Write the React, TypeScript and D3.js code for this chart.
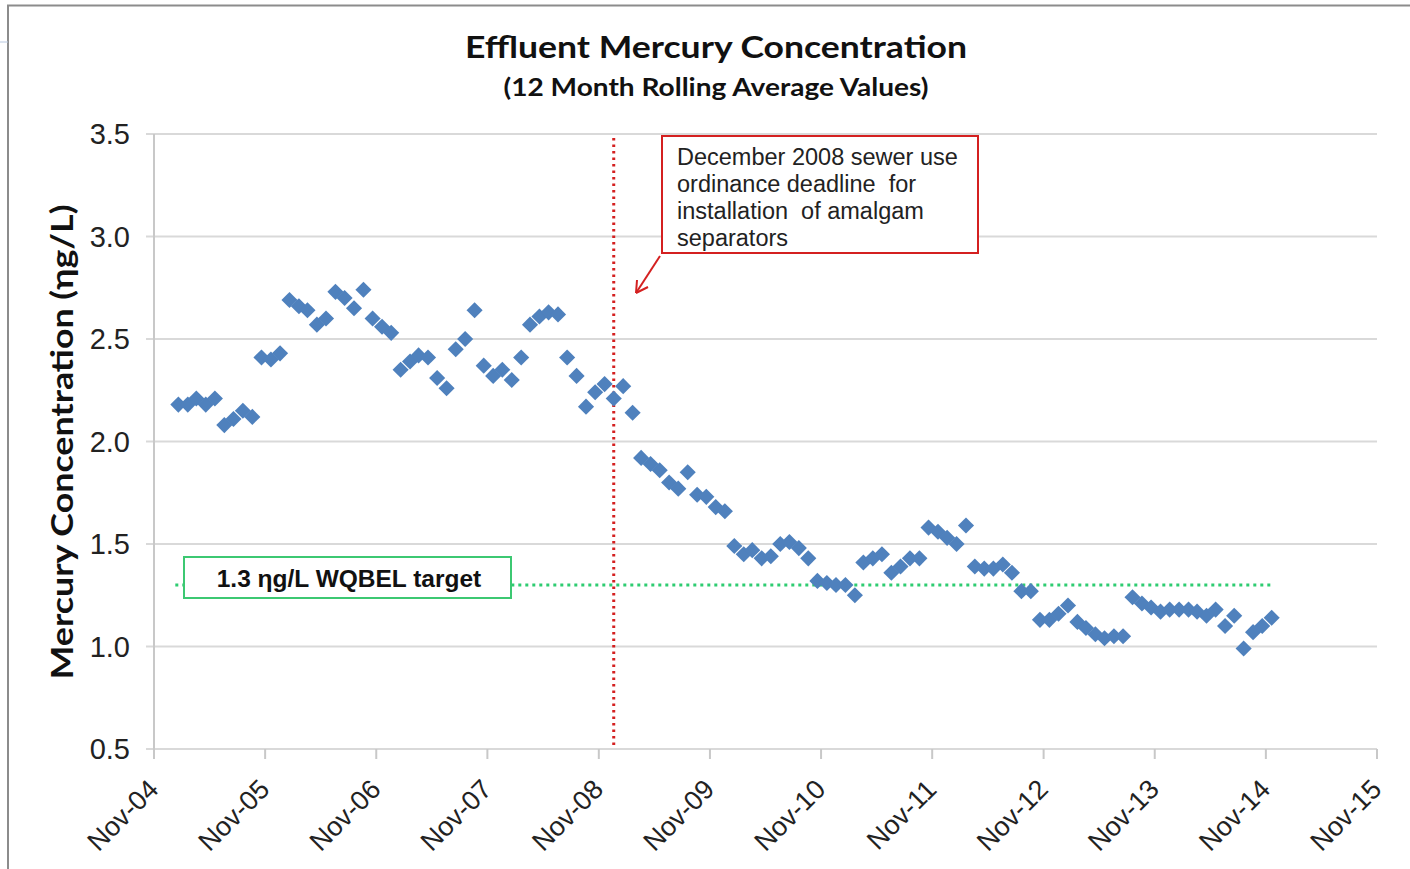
import React, { useEffect, useRef } from "react";
import * as d3 from "d3";

const START_MONTH = new Date(2005, 0, 20);
const values: number[] = [
  2.18, 2.18, 2.21, 2.18, 2.21, 2.08, 2.11, 2.15, 2.12, 2.41,
  2.40, 2.43, 2.69, 2.66, 2.64, 2.57, 2.60, 2.73, 2.70, 2.65,
  2.74, 2.60, 2.56, 2.53, 2.35, 2.39, 2.42, 2.41, 2.31, 2.26,
  2.45, 2.50, 2.64, 2.37, 2.32, 2.35, 2.30, 2.41, 2.57, 2.61,
  2.63, 2.62, 2.41, 2.32, 2.17, 2.24, 2.28, 2.21, 2.27, 2.14,
  1.92, 1.89, 1.86, 1.80, 1.77, 1.85, 1.74, 1.73, 1.68, 1.66,
  1.49, 1.45, 1.47, 1.43, 1.44, 1.50, 1.51, 1.48, 1.43, 1.32,
  1.31, 1.30, 1.30, 1.25, 1.41, 1.43, 1.45, 1.36, 1.39, 1.43,
  1.43, 1.58, 1.56, 1.53, 1.50, 1.59, 1.39, 1.38, 1.38, 1.40,
  1.36, 1.27, 1.27, 1.13, 1.13, 1.16, 1.20, 1.12, 1.09, 1.06,
  1.04, 1.05, 1.05, 1.24, 1.21, 1.19, 1.17, 1.18, 1.18, 1.18,
  1.17, 1.15, 1.18, 1.10, 1.15, 0.99, 1.07, 1.10, 1.14,
];
const yTicks = [0.5, 1.0, 1.5, 2.0, 2.5, 3.0, 3.5];
const xTickYears = [2004, 2005, 2006, 2007, 2008, 2009, 2010, 2011, 2012, 2013, 2014, 2015];
const TARGET = 1.3;
const TARGET_LABEL = "1.3 ηg/L WQBEL target";
const DEADLINE = new Date(2008, 11, 20);
const TARGET_START = new Date(2005, 0, 10);
const TARGET_END = new Date(2014, 10, 20);
const noteLines = [
  "December 2008 sewer use",
  "ordinance deadline  for",
  "installation  of amalgam",
  "separators",
];
const TITLE = "Effluent Mercury Concentration";
const SUBTITLE = "(12 Month Rolling Average Values)";
const Y_TITLE = "Mercury Concentration (ηg/L)";

export default function App() {
  const ref = useRef<SVGSVGElement>(null);
  useEffect(() => {
    const svg = d3.select(ref.current);
    svg.selectAll("*").remove();
    const L = 154, R = 1377, T = 134, B = 749;
    const x = d3.scaleTime().domain([new Date(2004, 10, 1), new Date(2015, 10, 1)]).range([L, R]);
    const y = d3.scaleLinear().domain([0.5, 3.5]).range([B, T]);
    const data = values.map((v, i) => ({ date: d3.timeMonth.offset(START_MONTH, i), v }));
    const sans = "Liberation Sans, Arial, sans-serif";
    const head = "Lato, Open Sans, sans-serif";

    svg.append("rect").attr("x", 0).attr("y", 0).attr("width", 1410).attr("height", 869).attr("fill", "#fff");
    // outer frame
    svg.append("path").attr("d", "M8,869 L8,5.5 L1410,5.5").attr("fill", "none").attr("stroke", "#8c8c8c").attr("stroke-width", 2);
    svg.append("line").attr("x1", 0).attr("x2", 8).attr("y1", 42).attr("y2", 42).attr("stroke", "#b8c8e0").attr("stroke-width", 1);

    // gridlines
    svg.append("g").selectAll("line").data(yTicks).join("line")
      .attr("x1", L - 8).attr("x2", R).attr("y1", (d) => y(d)).attr("y2", (d) => y(d))
      .attr("stroke", "#d9d9d9").attr("stroke-width", 2);
    // y axis line
    svg.append("line").attr("x1", L).attr("x2", L).attr("y1", T).attr("y2", B + 10).attr("stroke", "#c8c8c8").attr("stroke-width", 2);
    // x ticks
    const xt = xTickYears.map((yr) => new Date(yr, 10, 1));
    svg.append("g").selectAll("line").data(xt).join("line")
      .attr("x1", (d) => x(d)).attr("x2", (d) => x(d)).attr("y1", B).attr("y2", B + 10)
      .attr("stroke", "#c8c8c8").attr("stroke-width", 2);
    // y labels
    svg.append("g").selectAll("text").data(yTicks).join("text")
      .attr("x", 130).attr("y", (d) => y(d) + 10).attr("text-anchor", "end")
      .attr("font-family", sans).attr("font-size", 29).attr("fill", "#222")
      .text((d) => d3.format(".1f")(d));
    // x labels
    const fmt = d3.timeFormat("%b-%y");
    svg.append("g").selectAll("text").data(xt).join("text")
      .attr("transform", (d) => `translate(${x(d) + 6},${B + 42}) rotate(-45)`)
      .attr("text-anchor", "end")
      .attr("font-family", sans).attr("font-size", 27).attr("fill", "#222")
      .text((d) => fmt(d));

    // titles
    svg.append("text").attr("x", 716).attr("y", 58).attr("text-anchor", "middle")
      .attr("font-family", head).attr("font-weight", 700).attr("font-size", 31)
      .attr("fill", "#111").attr("textLength", 502).attr("lengthAdjust", "spacingAndGlyphs").text(TITLE);
    svg.append("text").attr("x", 716).attr("y", 96).attr("text-anchor", "middle")
      .attr("font-family", head).attr("font-weight", 700).attr("font-size", 24)
      .attr("fill", "#111").attr("textLength", 425).attr("lengthAdjust", "spacingAndGlyphs").text(SUBTITLE);
    svg.append("text").attr("transform", "translate(73,442) rotate(-90)").attr("text-anchor", "middle")
      .attr("font-family", head).attr("font-weight", 700).attr("font-size", 31)
      .attr("fill", "#111").attr("textLength", 475).attr("lengthAdjust", "spacingAndGlyphs").text(Y_TITLE);

    // target line
    svg.append("line").attr("x1", x(TARGET_START)).attr("x2", x(TARGET_END)).attr("y1", y(TARGET)).attr("y2", y(TARGET))
      .attr("stroke", "#2ecc71").attr("stroke-width", 3).attr("stroke-dasharray", "3,4");
    // deadline line
    svg.append("line").attr("x1", x(DEADLINE)).attr("x2", x(DEADLINE)).attr("y1", 138).attr("y2", B)
      .attr("stroke", "#d42020").attr("stroke-width", 3).attr("stroke-dasharray", "2.5,4");

    // points
    const sym = d3.symbol().type(d3.symbolSquare).size(130);
    svg.append("g").selectAll("path").data(data).join("path")
      .attr("d", sym as any)
      .attr("transform", (d) => `translate(${x(d.date)},${y(d.v)}) rotate(45)`)
      .attr("fill", "#4f81bd");

    // target box
    svg.append("rect").attr("x", 184).attr("y", 557).attr("width", 327).attr("height", 41)
      .attr("fill", "#fff").attr("stroke", "#3cc872").attr("stroke-width", 2);
    svg.append("text").attr("x", 349).attr("y", 587).attr("text-anchor", "middle")
      .attr("font-family", sans).attr("font-weight", 700).attr("font-size", 24.5)
      .attr("fill", "#111").text(TARGET_LABEL);

    // note box
    svg.append("rect").attr("x", 662).attr("y", 136).attr("width", 316).attr("height", 117)
      .attr("fill", "#fff").attr("stroke", "#d42020").attr("stroke-width", 2);
    svg.append("g").selectAll("text").data(noteLines).join("text")
      .attr("x", 677).attr("y", (d, i) => 165 + i * 27)
      .attr("font-family", sans).attr("font-size", 23.5).attr("fill", "#222")
      .style("white-space", "pre")
      .text((d) => d);
    // arrow
    svg.append("line").attr("x1", 660).attr("y1", 256).attr("x2", 636).attr("y2", 293)
      .attr("stroke", "#d42020").attr("stroke-width", 2);
    svg.append("path").attr("d", "M636,293 L637,280 M636,293 L648,287")
      .attr("stroke", "#d42020").attr("stroke-width", 2).attr("fill", "none");
  }, []);
  return (
    <svg ref={ref} width={1410} height={869}
      style={{ position: "absolute", left: 0, top: 0, display: "block" }} />
  );
}
